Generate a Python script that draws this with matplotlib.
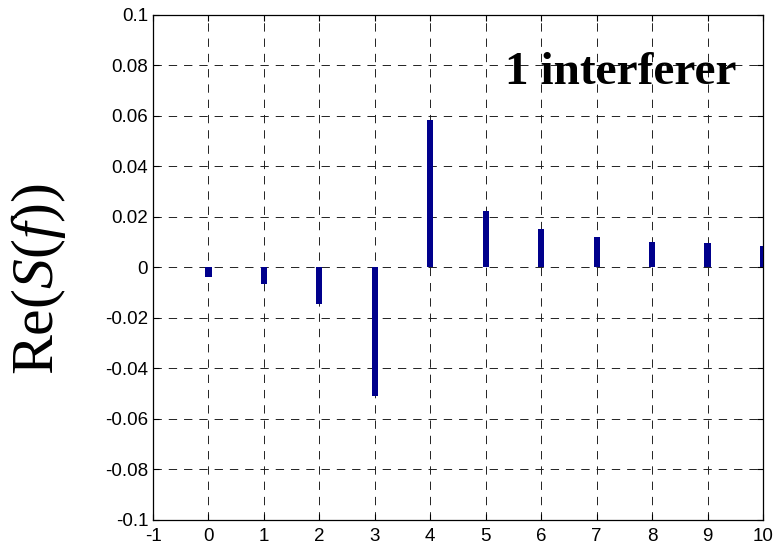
import matplotlib
matplotlib.use("Agg")
import matplotlib.pyplot as plt
from matplotlib.ticker import FixedLocator, FuncFormatter

# Real part of S(f) at each harmonic index
harmonics = [0, 1, 2, 3, 4, 5, 6, 7, 8, 9, 10]
re_values = [-0.0037, -0.0066, -0.0144, -0.0508, 0.0585, 0.0223,
             0.0153, 0.0119, 0.0100, 0.0096, 0.0084]

x_ticks = [-1, 0, 1, 2, 3, 4, 5, 6, 7, 8, 9, 10]
y_ticks = [-0.1, -0.08, -0.06, -0.04, -0.02, 0, 0.02, 0.04, 0.06, 0.08, 0.1]
annotation = "1 interferer"

plt.rcParams["axes.unicode_minus"] = False
plt.rcParams["lines.scale_dashes"] = False
plt.rcParams["mathtext.fontset"] = "custom"
plt.rcParams["mathtext.rm"] = "Liberation Serif"
plt.rcParams["mathtext.it"] = "Liberation Serif:italic"

fig = plt.figure(figsize=(7.78, 5.48), dpi=100)
ax = fig.add_axes([0.1967, 0.0511, 0.7840, 0.9221])

ax.bar(harmonics, re_values, width=0.11, color="#00008c", zorder=3)

ax.set_xlim(-1, 10)
ax.set_ylim(-0.1, 0.1)
ax.xaxis.set_major_locator(FixedLocator(x_ticks))
ax.yaxis.set_major_locator(FixedLocator(y_ticks))
ax.xaxis.set_major_formatter(FuncFormatter(lambda v, p: f"{v:g}"))
ax.yaxis.set_major_formatter(FuncFormatter(lambda v, p: f"{v:g}"))

ax.grid(True, color="#222222", linestyle=(0, (6, 5)), linewidth=0.7, zorder=1)
ax.set_axisbelow(True)

ax.tick_params(direction="in", length=4, width=0.8, top=True, right=True,
               labelsize=13.5, labelfontfamily="Liberation Sans")
ax.tick_params(axis="y", pad=3.5)
ax.tick_params(axis="x", pad=6)
for spine in ax.spines.values():
    spine.set_linewidth(0.9)

ax.text(0.767, 0.884, annotation, transform=ax.transAxes, ha="center",
        va="center", fontsize=34, fontweight="bold", family="Liberation Serif",
        zorder=5)

fig.text(0.049, 0.49, r"Re$\mathit{(S(f))}$", rotation=90,
         ha="center", va="center", fontsize=43, family="Liberation Serif")

fig.savefig("out.png", dpi=100)
